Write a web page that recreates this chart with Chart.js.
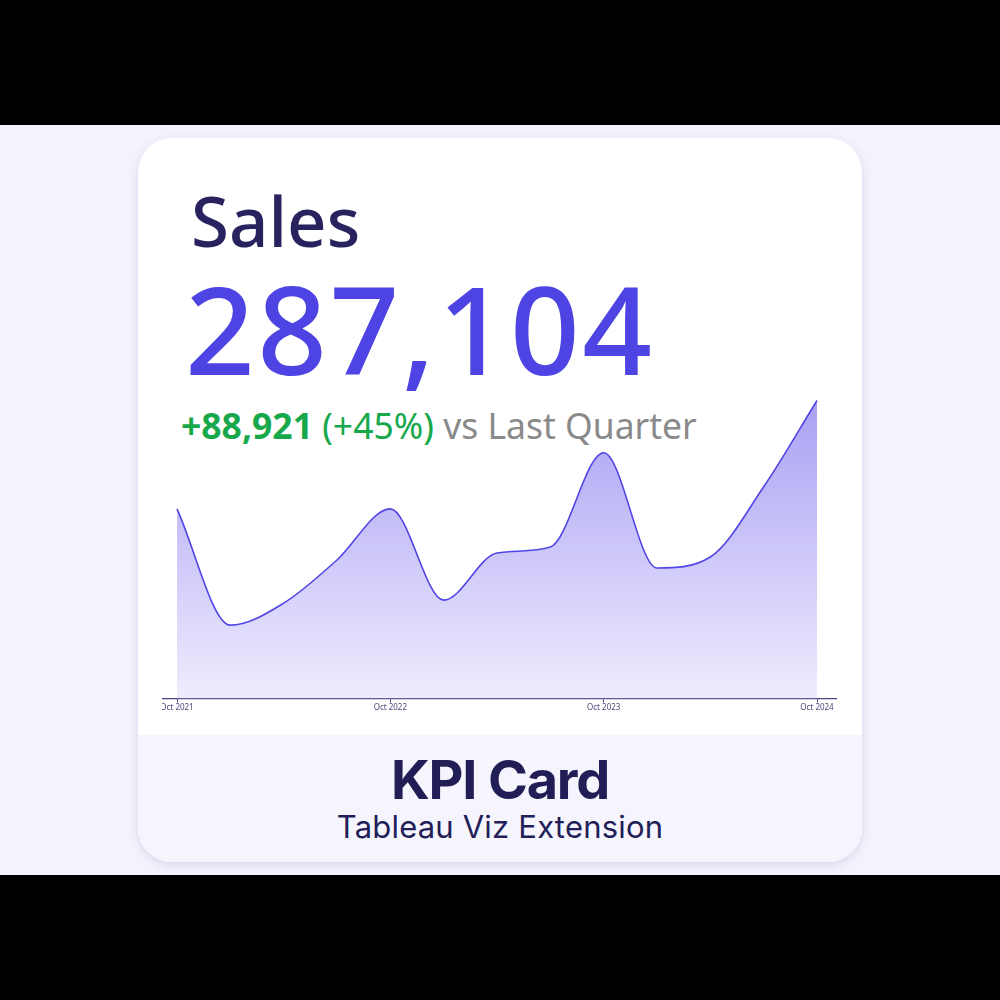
<!DOCTYPE html>
<html>
<head>
<meta charset="utf-8">
<script src="https://cdn.jsdelivr.net/npm/chart.js@4"></script>
<style>
  html, body { margin:0; padding:0; width:1000px; height:1000px; background:#000; overflow:hidden; }
  #band { position:absolute; left:0; top:125px; width:1000px; height:750px; background:#f4f3fc; }
  #card { position:absolute; left:138px; top:138px; width:724px; height:724px; border-radius:34px;
          background:#ffffff; box-shadow:0 3px 10px rgba(70,60,150,0.16); overflow:hidden; }
  #foot { position:absolute; left:0; top:597px; width:724px; height:127px; background:#f6f5fd; }
  .t { position:absolute; white-space:nowrap; }
  #sales { left:53px; top:48px; font-family:"Noto Sans"; font-weight:500; font-size:69px; color:#28235e; line-height:1; }
  #big { left:47px; top:129px; font-family:"Noto Sans"; font-weight:500; font-size:122px; color:#4d44e3; line-height:1; letter-spacing:2.5px; }
  #delta { left:43px; top:270px; font-family:"Noto Sans"; font-size:35.5px; line-height:1; }
  #delta b { color:#17a84c; font-weight:700; }
  #delta .g { color:#17a84c; }
  #delta .gr { color:#8a8a8a; }
  #kpi { left:0; width:724px; text-align:center; top:615px; font-family:Inter; font-weight:700; font-size:54px; color:#211d55; letter-spacing:-1.2px; line-height:1; }
  #sub { left:0; width:724px; text-align:center; top:673px; font-family:Inter; font-size:31px; color:#221e58; letter-spacing:0.2px; line-height:1; }
  #wrap { position:absolute; left:162px; top:368px; width:676px; height:360px; overflow:hidden; }
  #cv { position:absolute; left:-20px; top:0; }
</style>
</head>
<body>
<div id="band"></div>
<div id="card">
  <div class="t" id="sales">Sales</div>
  <div class="t" id="big">287,104</div>
  <div class="t" id="delta"><b>+88,921</b> <span class="g">(+45%)</span> <span class="gr">vs Last Quarter</span></div>
  <div id="foot"></div>
  <div class="t" id="kpi">KPI Card</div>
  <div class="t" id="sub">Tableau Viz Extension</div>
</div>
<div id="wrap"><canvas id="cv" width="720" height="360" style="width:720px;height:360px"></canvas></div>
<script>
const quarters = ["Oct 2021","Jan 2022","Apr 2022","Jul 2022","Oct 2022","Jan 2023","Apr 2023","Jul 2023","Oct 2023","Jan 2024","Apr 2024","Jul 2024","Oct 2024"];
const sales = [175400, 55500, 78200, 122700, 175400, 81300, 129900, 136100, 233300, 114400, 125800, 198183, 287104];
const tickIndexes = [0, 4, 8, 12];
const tickLabels = ["Oct 2021","Oct 2022","Oct 2023","Oct 2024"];

const points = sales.map((v, i) => ({ x: i, y: v }));

new Chart(document.getElementById('cv'), {
  type: 'line',
  data: {
    datasets: [{
      data: points,
      borderColor: '#5046e6',
      borderWidth: 1.6,
      pointRadius: 0,
      cubicInterpolationMode: 'monotone',
      fill: 'start',
      backgroundColor: (ctx) => {
        const ca = ctx.chart.chartArea;
        if (!ca) return '#d6d1fa';
        const g = ctx.chart.ctx.createLinearGradient(0, ca.top, 0, ca.bottom);
        g.addColorStop(0, '#a79ef2');
        g.addColorStop(0.5, '#cbc5f9');
        g.addColorStop(1, '#eeecfd');
        return g;
      }
    }]
  },
  options: {
    responsive: false,
    animation: false,
    devicePixelRatio: 1,
    layout: { padding: { left: 21, right: 26, top: 20, bottom: 14 } },
    plugins: { legend: { display: false }, tooltip: { enabled: false } },
    scales: {
      x: {
        type: 'linear',
        min: -0.2625,
        max: 12.356,
        afterBuildTicks: (s) => { s.ticks = tickIndexes.map(v => ({ value: v })); },
        ticks: {
          autoSkip: false,
          maxRotation: 0,
          padding: 1,
          color: '#4a4878',
          font: { family: 'Noto Sans', size: 8 },
          callback: (v) => { const k = tickIndexes.indexOf(v); return k >= 0 ? tickLabels[k] : ''; }
        },
        grid: { drawOnChartArea: false, drawTicks: true, tickLength: 4, color: '#4b4785' },
        border: { display: true, color: '#4b4785', width: 1.3 }
      },
      y: {
        min: -20000,
        max: 300000,
        display: false
      }
    }
  }
});
</script>
</body>
</html>
